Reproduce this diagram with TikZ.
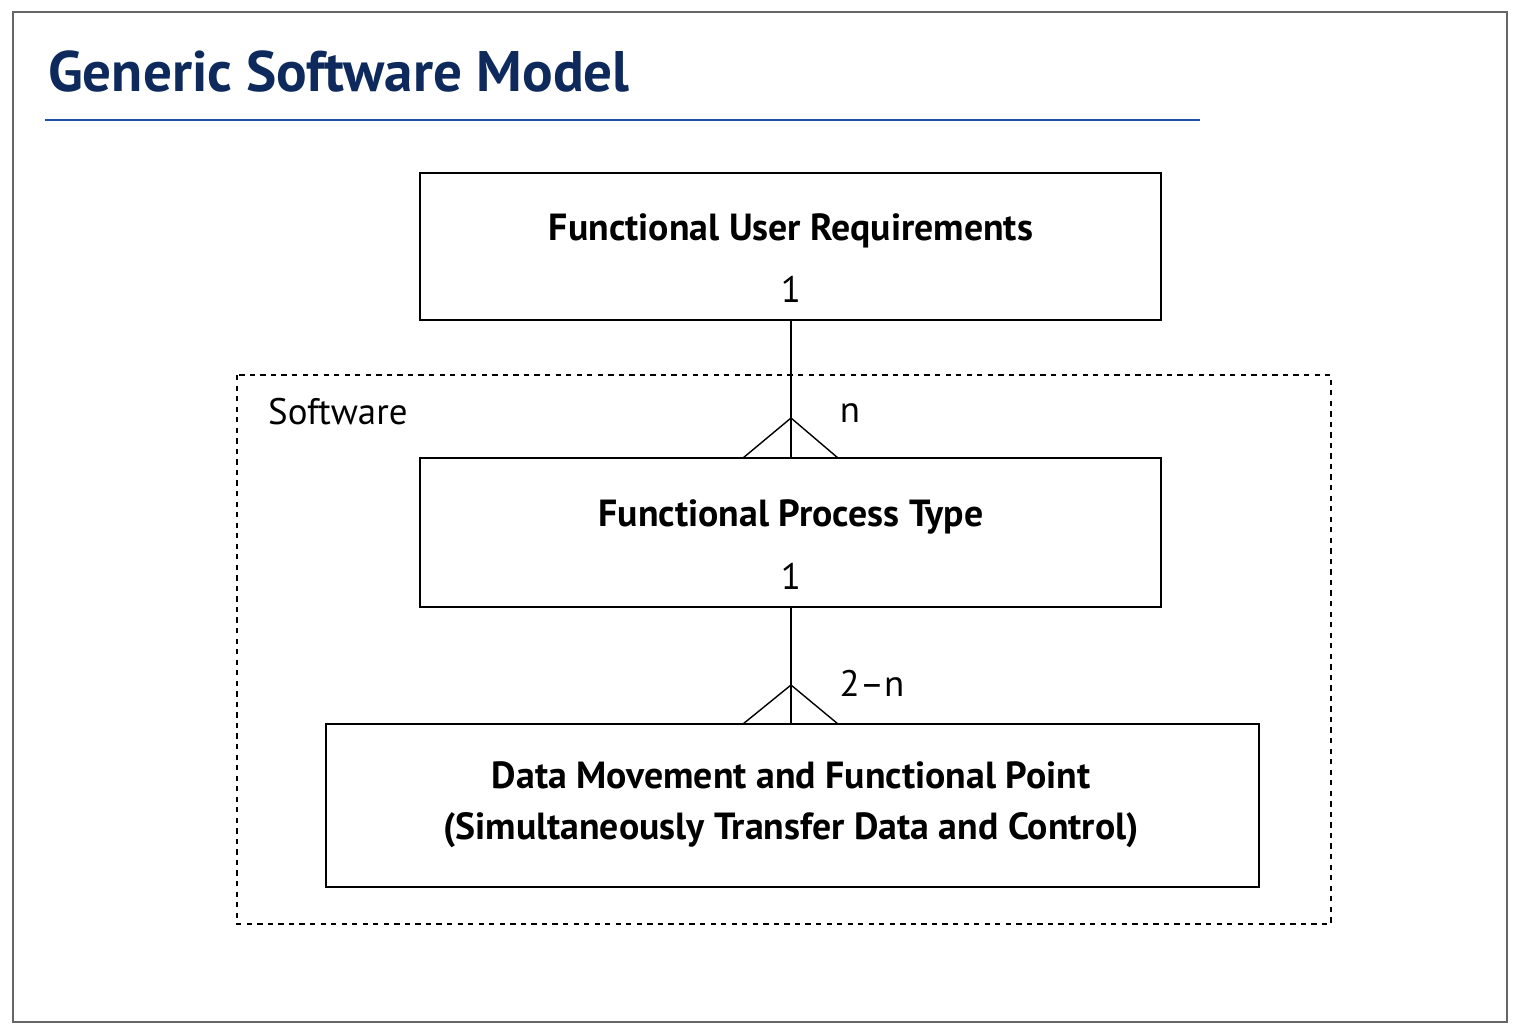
\documentclass[tikz,border=0pt]{standalone}
\usepackage{fontspec}
\setmainfont{PT Sans}
\definecolor{titleblue}{HTML}{0E2A5C}
\definecolor{ruleblue}{HTML}{1F4FA8}
\begin{document}
\begin{tikzpicture}[
	x=0.02cm, y=-0.02cm,
	box/.style={draw, thick, rectangle, inner sep=0pt},
	lbl/.style={font=\fontsize{21}{25}\selectfont},
	bold/.style={font=\fontsize{21.5}{25}\selectfont\bfseries},
	crow/.style={thick}
	]

	% frame and title
	\useasboundingbox (0,0) rectangle (1520,1035);
	\draw[gray!80!black, thick] (13,12) rectangle (1507,1022);
	\node[anchor=west, text=titleblue, font=\fontsize{32.5}{38}\selectfont\bfseries] (title) at (42,72) {Generic Software Model};
	\draw[ruleblue, line width=1.3pt] (45,120) -- (1200,120);

	% software boundary
	\draw[dashed, thick] (237,375) rectangle (1331,924);
	\node[anchor=west, lbl] (sw) at (262,412) {Software};

	% boxes
	\draw[box] (420,173) rectangle (1161,320);
	\node[bold] (fur) at (791,231) {Functional User Requirements};
	\node[lbl] (furone) at (791,289) {1};
	\coordinate (furb) at (791,320);

	\draw[box] (420,458) rectangle (1161,607);
	\node[bold] (fpt) at (791,517) {Functional Process Type};
	\node[lbl] (fptone) at (791,576) {1};
	\coordinate (fptt) at (791,458);
	\coordinate (fptb) at (791,607);

	\draw[box] (326,724) rectangle (1259,887);
	\node[bold, align=center] (dm) at (791,805)
		{Data Movement and Functional Point\\[4pt](Simultaneously Transfer Data and Control)};
	\coordinate (dmt) at (791,724);

	% connectors with crow's feet
	\draw[crow] (furb) -- (fptt);
	\draw[crow] (743,458) -- (791,418) -- (838,458);
	\node[lbl] (n) at (850,413) {n};
	\draw[crow] (fptb) -- (dmt);
	\draw[crow] (743,724) -- (791,685) -- (838,724);
	\node[lbl] (twon) at (872,683) {2--n};
\end{tikzpicture}
\end{document}
